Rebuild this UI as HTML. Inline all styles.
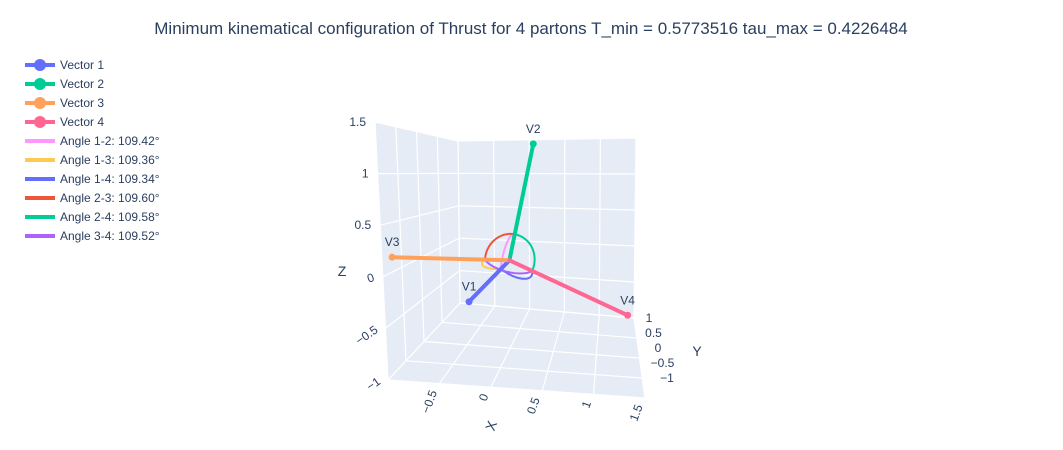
<!DOCTYPE html>
<html><head><meta charset="utf-8">
<style>
html,body{margin:0;padding:0;background:#fff;}
svg{display:block;font-family:"Liberation Sans",Arial,sans-serif;}
</style></head>
<body>
<svg id="chart" width="1063" height="450" viewBox="0 0 1063 450" xmlns="http://www.w3.org/2000/svg">
<rect x="0" y="0" width="1063" height="450" fill="#fff"/>
<text x="531" y="34" text-anchor="middle" font-size="17" fill="#2a3f5f">Minimum kinematical configuration of Thrust for 4 partons T_min = 0.5773516 tau_max = 0.4226484</text>
<g id="scene"></g>
<g id="legend"></g>
</svg>
<script>
// ---- data ----
const vectorNames = ["V1","V2","V3","V4"];
const vecX = [-0.13, 0.22, -1.49, 1.39];
const vecY = [-1.3, 0.3, 0.3, 0.7];
const vecZ = [-0.15, 1.35, -0.09, -0.82];
const vecColors = ["#636efa","#00cc96","#ffa15a","#ff6692"];
const anglePairs = [[0,1],[0,2],[0,3],[1,2],[1,3],[2,3]];
const angleValues = [109.42,109.36,109.34,109.60,109.58,109.52];
const angleColors = ["#ff97ff","#fecb52","#636efa","#ef553b","#00cc96","#ab63fa"];
const xTicks = [-0.5,0,0.5,1,1.5];
const yTicks = [-1,-0.5,0,0.5,1];
const zTicks = [-1,-0.5,0,0.5,1,1.5];
const xRange = [-1,1.5], yRange = [-1,1], zRange = [-1,1.5];

// ---- projection (trilinear between screen box corners) ----
const corners = {
  "000":[388,380],"100":[645,398],"010":[460,303],"110":[634,318],
  "001":[375,122],"101":[655,111],"011":[458,141],"111":[636,138]
};
function lerp(a,b,t){return [a[0]+(b[0]-a[0])*t,a[1]+(b[1]-a[1])*t];}
function P(x,y,z){
  const u=(x-xRange[0])/(xRange[1]-xRange[0]);
  const v=(y-yRange[0])/(yRange[1]-yRange[0]);
  const w=(z-zRange[0])/(zRange[1]-zRange[0]);
  const c=corners;
  const b0=lerp(lerp(c["000"],c["100"],u),lerp(c["010"],c["110"],u),v);
  const b1=lerp(lerp(c["001"],c["101"],u),lerp(c["011"],c["111"],u),v);
  return lerp(b0,b1,w);
}
const NS="http://www.w3.org/2000/svg";
const scene=document.getElementById("scene");
function mk(tag,attrs,parent){const e=document.createElementNS(NS,tag);for(const k in attrs)e.setAttribute(k,attrs[k]);(parent||scene).appendChild(e);return e;}
function poly(pts){return pts.map(p=>p[0].toFixed(1)+","+p[1].toFixed(1)).join(" ");}

// panes
const [x0,x1]=xRange,[y0,y1]=yRange,[z0,z1]=zRange;
let e;
e=mk("polygon",{points:poly([P(x0,y0,z0),P(x0,y1,z0),P(x0,y1,z1),P(x0,y0,z1)]),fill:"#e5ecf6"});


e=mk("polygon",{points:poly([P(x0,y1,z0),P(x1,y1,z0),P(x1,y1,z1),P(x0,y1,z1)]),fill:"#e5ecf6"});


e=mk("polygon",{points:poly([P(x0,y0,z0),P(x1,y0,z0),P(x1,y1,z0),P(x0,y1,z0)]),fill:"#e5ecf6"});



function gl(a,b,name){
  const l=mk("polyline",{points:poly([a,b]),stroke:"#fff","stroke-width":1.2,fill:"none"});
  
  
}
[-1].concat(xTicks).forEach(t=>{gl(P(t,y1,z0),P(t,y1,z1),"x-grid-back");gl(P(t,y0,z0),P(t,y1,z0),"x-grid-floor");});
yTicks.forEach(t=>{gl(P(x0,t,z0),P(x0,t,z1),"y-grid-left");gl(P(x0,t,z0),P(x1,t,z0),"y-grid-floor");});
zTicks.forEach(t=>{gl(P(x0,y0,t),P(x0,y1,t),"z-grid-left");gl(P(x0,y1,t),P(x1,y1,t),"z-grid-back");});

// tick labels
function txt(x,y,s,attrs,name){
  const t=mk("text",Object.assign({x:x,y:y,"font-size":12,fill:"#2a3f5f"},attrs||{}));
  t.textContent=s;
  
  
  return t;
}
function fmt(v){return (v<0?"\u2212":"")+Math.abs(v);}
zTicks.forEach(t=>{const p=P(x0,y0,t);const rot=t<0?-35:(t==0?-20:0);
  txt(p[0]-9,p[1]+4,fmt(t),{"text-anchor":"end",transform:`rotate(${rot} ${p[0]-9} ${p[1]})`},"z-tick-label");});
xTicks.forEach(t=>{const p=P(t,y0,z0);const ax=p[0]-6,ay=p[1]+7;
  txt(ax,ay,fmt(t),{"text-anchor":"end",transform:`rotate(-70 ${ax} ${ay}) translate(0 4)`},"x-tick-label");});
yTicks.forEach(t=>{const f=(1-t)/2;txt(649+f*18,322+f*60,fmt(t),{"text-anchor":"middle"},"y-tick-label");});
txt(342,276,"Z",{"font-size":14,"text-anchor":"middle"},"z-axis-title");
txt(492,430,"X",{"font-size":14,"text-anchor":"middle",transform:"rotate(-70 492 426)"},"x-axis-title");
txt(697,356,"Y",{"font-size":14,"text-anchor":"middle"},"y-axis-title");

// angle arcs
function norm(v){const n=Math.hypot(v[0],v[1],v[2]);return v.map(c=>c/n);}
const r=0.3;
anglePairs.forEach((pr,k)=>{
  const a=norm([vecX[pr[0]],vecY[pr[0]],vecZ[pr[0]]]);
  const b=norm([vecX[pr[1]],vecY[pr[1]],vecZ[pr[1]]]);
  const om=Math.acos(a[0]*b[0]+a[1]*b[1]+a[2]*b[2]);
  const pts=[];
  for(let i=0;i<=30;i++){const t=i/30;const s1=Math.sin((1-t)*om)/Math.sin(om),s2=Math.sin(t*om)/Math.sin(om);
    pts.push(P(r*(s1*a[0]+s2*b[0]),r*(s1*a[1]+s2*b[1]),r*(s1*a[2]+s2*b[2])));}
  const l=mk("polyline",{points:poly(pts),stroke:angleColors[k],"stroke-width":2,fill:"none"});
  
  
});
// vectors
vectorNames.forEach((n,i)=>{
  const o=P(0,0,0),p=P(vecX[i],vecY[i],vecZ[i]);
  const l=mk("polyline",{points:poly([o,p]),stroke:vecColors[i],"stroke-width":4,fill:"none","stroke-linecap":"round"});
  
  
  const c=mk("circle",{cx:p[0],cy:p[1],r:3.5,fill:vecColors[i]});
  
  
  txt(p[0],p[1]-11,n,{"text-anchor":"middle"},"vector-"+(i+1)+"-label");
});

// legend
const legendLabels = ["Vector 1","Vector 2","Vector 3","Vector 4"].concat(
  anglePairs.map((pr,k)=>`Angle ${pr[0]+1}-${pr[1]+1}: ${angleValues[k].toFixed(2)}°`));
const legendColors = vecColors.concat(angleColors);
const lg=document.getElementById("legend");
legendLabels.forEach((lab,i)=>{
  const y=65+i*19;
  const g=mk("g",{},lg);
  
  
  mk("line",{x1:25,y1:y,x2:55,y2:y,stroke:legendColors[i],"stroke-width":4},g);
  if(i<4) mk("circle",{cx:40,cy:y,r:6,fill:legendColors[i]},g);
  const t=mk("text",{x:60,y:y+4,"font-size":12,fill:"#2a3f5f"},g);
  t.textContent=lab;
});
</script>
</body></html>
